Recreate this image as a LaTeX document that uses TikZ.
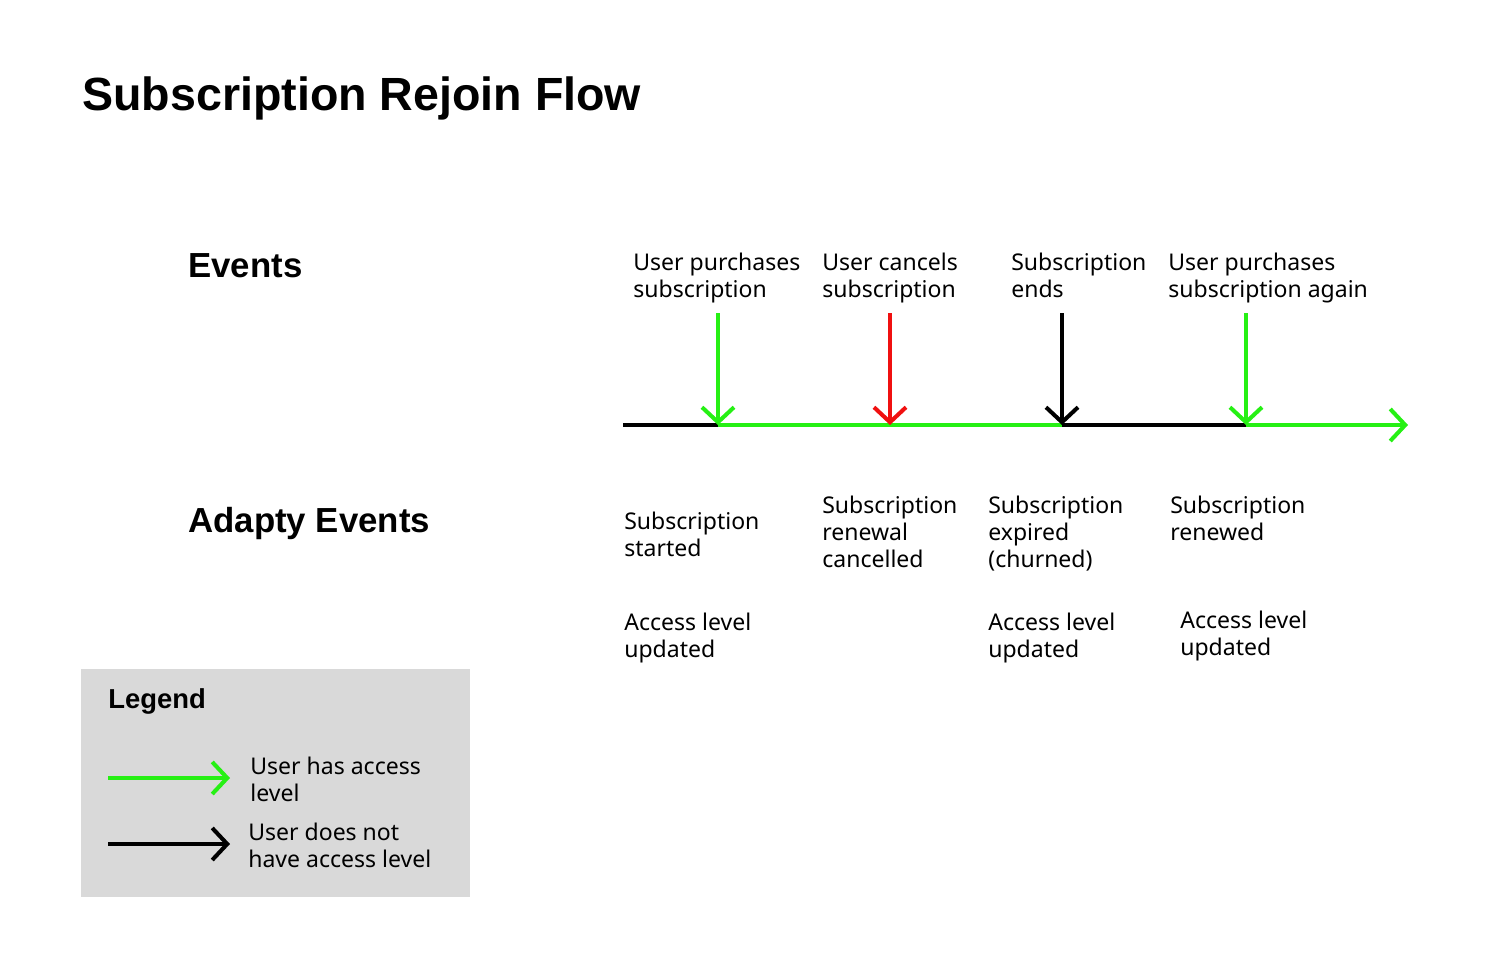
\documentclass[tikz,border=0pt]{standalone}
\usepackage{fontspec}
\setmainfont{Noto Sans}
\newfontfamily\headfont{Liberation Sans}
\usetikzlibrary{arrows.meta, positioning}
\definecolor{accessgreen}{RGB}{38,240,20}
\definecolor{cancelred}{RGB}{240,16,16}
\definecolor{legendgray}{RGB}{217,217,217}

\begin{document}
\begin{tikzpicture}[x=0.02cm, y=-0.02cm,% styles used in image code
          > = {Straight Barb[length=3mm, width=6.4mm]}, % defined in "arrows.meta"
 flow/.style = {line width=2.3pt},
  txt/.style = {anchor=north west, align=left, inner sep=0pt,
                font=\fontsize{13.1}{15.3}\selectfont},
 head/.style = {anchor=north west, inner sep=0pt,
                font=\headfont\bfseries\fontsize{19.8}{24}\selectfont}
                        ]
	\path[use as bounding box] (0,0) rectangle (1492,957);

	% title and row headings
	\node (title) [anchor=north west, inner sep=0pt,
	               font=\headfont\bfseries\fontsize{26.5}{31}\selectfont] at (82,76) {Subscription Rejoin Flow};
	\node (events) [head] at (188,253) {Events};
	\node (adapty) [head] at (188,507) {Adapty Events};

	% timeline
	\coordinate (t0) at (623,425);
	\coordinate (t1) at (718,425);
	\coordinate (t2) at (890,425);
	\coordinate (t3) at (1062,425);
	\coordinate (t4) at (1246,425);
	\coordinate (tend) at (1408,425);

	\draw[flow] (t0) -- (t1);
	\draw[flow,accessgreen] (t1) -- (t3);
	\draw[flow] (t3) -- (t4);
	\draw[flow,accessgreen,->] (t4) -- (tend);

	% events
	\coordinate (e1) at (718,313);
	\coordinate (e2) at (890,313);
	\coordinate (e3) at (1062,313);
	\coordinate (e4) at (1246,313);

	\draw[flow,accessgreen,->] (e1) -- (t1);
	\draw[flow,cancelred,->] (e2) -- (t2);
	\draw[flow,->] (e3) -- (t3);
	\draw[flow,accessgreen,->] (e4) -- (t4);

	\node (purchase) [txt] at (633,253) {User purchases\\subscription};
	\node (cancel) [txt] at (822,253) {User cancels\\subscription};
	\node (ends) [txt] at (1011,253) {Subscription\\ends};
	\node (again) [txt] at (1168,253) {User purchases\\subscription again};

	% adapty events
	\node (started) [txt] at (624,512) {Subscription\\started};
	\node (cancelled) [txt] at (822,496) {Subscription\\renewal\\cancelled};
	\node (expired) [txt] at (988,496) {Subscription\\expired\\(churned)};
	\node (renewed) [txt] at (1170,496) {Subscription\\renewed};

	\node (access1) [txt] at (624,613) {Access level\\updated};
	\node (access3) [txt] at (988,613) {Access level\\updated};
	\node (access4) [txt] at (1180,611) {Access level\\updated};

	% legend
	\fill[legendgray] (81,669) rectangle (470,897);
	\node (legend) [anchor=north west, inner sep=0pt,
	                font=\headfont\bfseries\fontsize{15.6}{18}\selectfont] at (108,688) {Legend};

	\coordinate (g0) at (108,778);
	\coordinate (g1) at (230,778);
	\coordinate (k0) at (108,844);
	\coordinate (k1) at (230,844);

	\draw[flow,accessgreen,->] (g0) -- (g1);
	\draw[flow,->] (k0) -- (k1);

	\node (hasaccess) [txt] at (250,757) {User has access\\level};
	\node (noaccess) [txt] at (248,823) {User does not\\have access level};
\end{tikzpicture}
\end{document}
